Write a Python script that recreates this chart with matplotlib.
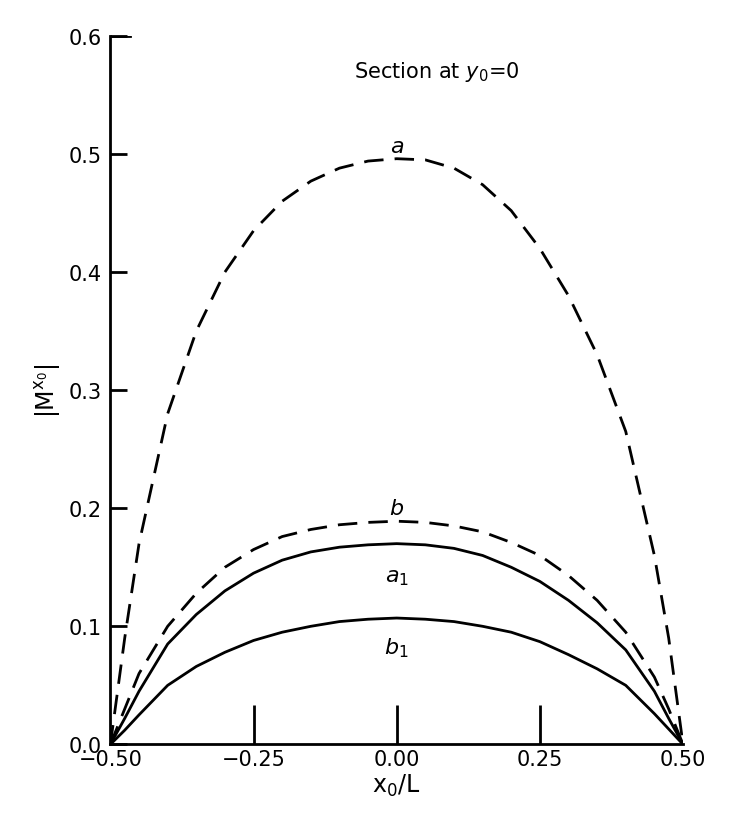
import matplotlib
matplotlib.use('Agg')
import matplotlib.pyplot as plt

# values
x = [-0.5, -0.475, -0.45, -0.4, -0.35, -0.3, -0.25, -0.2, -0.15, -0.1, -0.05, 0.0,
     0.05, 0.1, 0.15, 0.2, 0.25, 0.3, 0.35, 0.4, 0.45, 0.475, 0.5]
a = [0, 0.09, 0.17, 0.28, 0.35, 0.40, 0.435, 0.46, 0.477, 0.488, 0.494, 0.496,
     0.495, 0.488, 0.474, 0.452, 0.42, 0.38, 0.33, 0.265, 0.16, 0.09, 0]
b = [0, 0.03, 0.06, 0.10, 0.128, 0.15, 0.165, 0.176, 0.182, 0.186, 0.188, 0.189,
     0.188, 0.185, 0.18, 0.171, 0.16, 0.143, 0.122, 0.095, 0.057, 0.03, 0]
a1 = [0, 0.022, 0.045, 0.085, 0.11, 0.13, 0.145, 0.156, 0.163, 0.167, 0.169, 0.170,
      0.169, 0.166, 0.16, 0.15, 0.138, 0.122, 0.103, 0.08, 0.045, 0.022, 0]
b1 = [0, 0.012, 0.025, 0.05, 0.066, 0.078, 0.088, 0.095, 0.1, 0.104, 0.106, 0.107,
      0.106, 0.104, 0.1, 0.095, 0.087, 0.076, 0.064, 0.05, 0.026, 0.013, 0]
xticks = [-0.5, -0.25, 0.0, 0.25, 0.5]
xticklabels = ['\u22120.50', '\u22120.25', '0.00', '0.25', '0.50']
yticks = [0.0, 0.1, 0.2, 0.3, 0.4, 0.5, 0.6]

fig = plt.figure(figsize=(7.36, 8.2), dpi=100)
ax = fig.add_axes([0.15, 0.091, 0.778, 0.864])

dash = dict(color='black', lw=2, ls=(0, (7, 4)))
ax.plot(x, a, **dash)
ax.plot(x, b, **dash)
ax.plot(x, a1, color='black', lw=2)
ax.plot(x, b1, color='black', lw=2)

for s in ['top', 'right']:
    ax.spines[s].set_visible(False)
for s in ['left', 'bottom']:
    ax.spines[s].set_linewidth(2)

ax.set_xlim(-0.5, 0.5)
ax.set_ylim(0, 0.6)
ax.set_xticks(xticks)
ax.set_xticklabels(xticklabels)
ax.set_yticks(yticks)
ax.set_yticklabels([f'{v:.1f}' for v in yticks])
ax.tick_params(direction='in', length=28, width=2, labelsize=15, axis='x', pad=3)
ax.tick_params(direction='in', length=12, width=2, labelsize=15, axis='y', pad=6)
# no tick marks at the x-axis ends
xt = ax.xaxis.get_major_ticks()
for t in (xt[0], xt[-1]):
    t.tick1line.set_visible(False)
ax.axhline(0.6, xmin=0, xmax=0.035, color='black', lw=2)

ax.set_xlabel('$\\mathrm{x_0/L}$', fontsize=17, labelpad=2)
ax.set_ylabel('$\\mathrm{|M^{x_0}|}$', fontsize=17)

ax.text(0.07, 0.565, 'Section at $y_0$=0', fontsize=15, ha='center')
lab = dict(fontsize=16, ha='center', style='italic')
ax.text(0.0, 0.502, 'a', **lab)
ax.text(0.0, 0.195, 'b', **lab)
ax.text(0.0, 0.138, '$a_1$', fontsize=16, ha='center')
ax.text(0.0, 0.077, '$b_1$', fontsize=16, ha='center')

fig.savefig('out.png', dpi=100)
